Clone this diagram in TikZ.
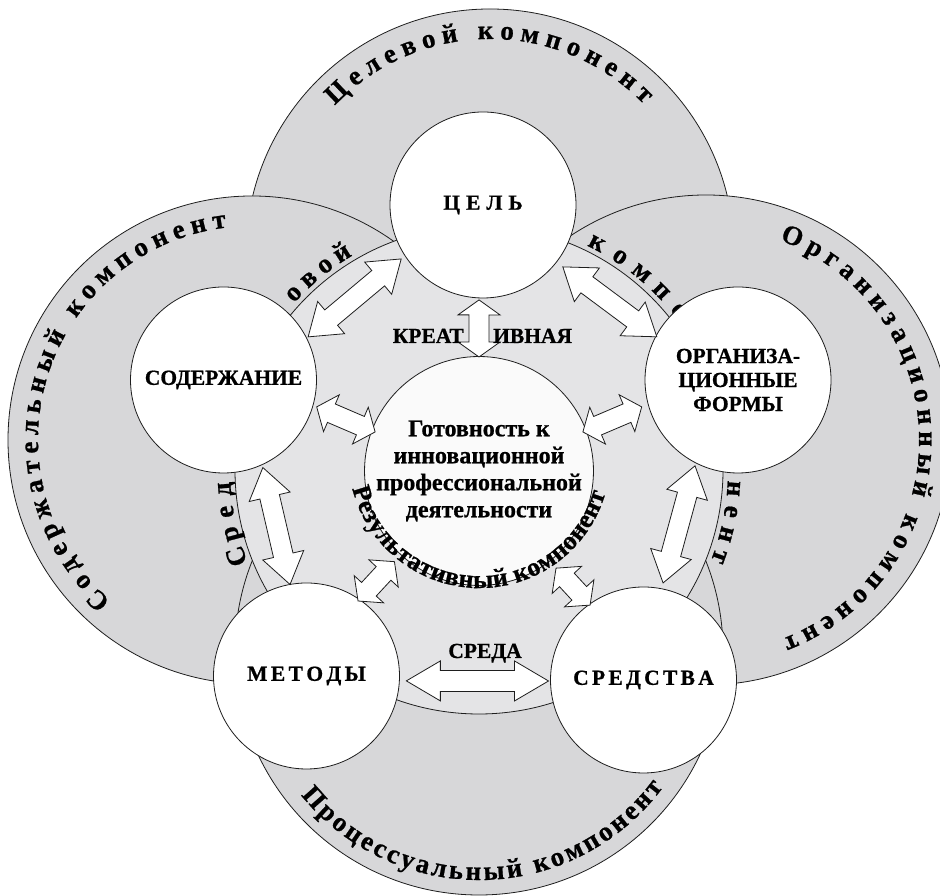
\documentclass[tikz,border=0pt]{standalone}
\usepackage{fontspec}
\setmainfont{Liberation Serif}[BoldFeatures={FakeBold=0.8}]
\usetikzlibrary{calc,decorations.text}
\definecolor{ringgray}{RGB}{215,215,217}
\definecolor{discgray}{RGB}{228,228,230}
\definecolor{coregray}{RGB}{250,250,250}
\definecolor{linec}{RGB}{30,30,30}
\newcommand\arcfont{\bfseries\fontsize{27}{27}\selectfont}
\tikzset{
 ring/.style={fill=ringgray, draw=linec, line width=0.8pt},
 disc/.style={fill=discgray, draw=linec, line width=0.8pt},
 elem/.style={circle, fill=white, draw=linec, line width=0.8pt, minimum size=186pt, inner sep=0pt, align=center, font=\bfseries\fontsize{21.5}{24}\selectfont},
 core/.style={circle, fill=coregray, draw=linec, line width=0.8pt, minimum size=224pt, inner sep=0pt, align=center, font=\bfseries\fontsize{24}{27}\selectfont},
 lbl/.style={font=\bfseries\fontsize{21.5}{24}\selectfont, inner sep=0pt},
 arcletter/.style={anchor=base, inner sep=0pt, font=\arcfont},
 blockarrow/.style={fill=white, draw=linec, line width=0.8pt, line join=miter},
}
% text spread along an arc (start angle > end angle: clockwise, letters outward)
\newcommand\arctext[5]{%
  \path[decorate, decoration={text along path, text align={fit to path},
    text={|\arcfont|#5}}]
    ($(#1)+(#3:#2)$) arc[start angle=#3, end angle=#4, radius=#2];}
\newcommand\cwword[5]{%
  \foreach \ch [count=\i from 0] in {#5}{%
    \pgfmathsetmacro\ang{#3-\i*(#4)}%
    \node[arcletter, rotate=\ang-90] at ($(#1)+(\ang:#2)$) {\ch};}}
\newcommand\blockarr[5]{%
  \draw[blockarrow] (#1)
   -- ($(#1)!#3!(#2)!#4!90:(#2)$)
   -- ($(#1)!#3!(#2)!#5!90:(#2)$)
   -- ($(#2)!#3!(#1)!#5!-90:(#1)$)
   -- ($(#2)!#3!(#1)!#4!-90:(#1)$)
   -- (#2)
   -- ($(#2)!#3!(#1)!#4!90:(#1)$)
   -- ($(#2)!#3!(#1)!#5!90:(#1)$)
   -- ($(#1)!#3!(#2)!#5!-90:(#2)$)
   -- ($(#1)!#3!(#2)!#4!-90:(#2)$)
   -- cycle;}
\begin{document}
\begin{tikzpicture}[x=1pt,y=1pt]
\useasboundingbox (0,0) rectangle (940,896);
\clip (0,0) rectangle (940,896);
\coordinate (ringT) at (490,643);
\coordinate (ringL) at (252,456);
\coordinate (ringR) at (706,456);
\coordinate (ringB) at (479,245);
\coordinate (midC) at (479,426);
\coordinate (res) at (479.5,439);
% outer component rings
\draw[ring] (ringT) circle[radius=244];
\draw[ring] (ringL) circle[radius=244];
\draw[ring] (ringR) circle[radius=245];
\draw[ring] (ringB) circle[radius=244];
\draw[disc] (midC) circle[radius=244];
% ring captions
\arctext{ringT}{214}{136.5}{44}{Целевой компонент}
\arctext{ringL}{214}{228.7}{96.8}{Содержательный компонент}
\arctext{ringR}{213}{69.8}{-68.9}{Организационный компонент}
\arctext{ringB}{229}{219}{323.5}{Процессуальный компонент}
\cwword{midC}{249}{199.6}{5.1}{С,р,е,д}
\cwword{midC}{249}{136.4}{4.7}{о,в,о,й}
\cwword{midC}{249}{62.5}{6.0}{к,о,м,п,о}
\cwword{midC}{249}{-4.2}{5.2}{н,е,н,т}
% element circles
\node[elem] (tsel) at (483,691) {Ц\kern6ptЕ\kern6ptЛ\kern6ptЬ};
\node[elem] (sod) at (223.5,516) {СОДЕРЖАНИЕ};
\node[elem] (org) at (738,516) {ОРГАНИЗА-\\ЦИОННЫЕ\\ФОРМЫ};
\node[elem] (met) at (306.5,220) {М\kern3.4ptЕ\kern3.4ptТ\kern3.4ptО\kern3.4ptД\kern3.4ptЫ};
\node[elem] (sred) at (643.5,216) {С\kern3.3ptР\kern3.3ptЕ\kern3.3ptД\kern3.3ptС\kern3.3ptТ\kern3.3ptВ\kern3.3ptА};
\node[core] (core) at (479,425) {Готовность к\\инновационной\\профессиональной\\деятельности};
% arrow end points
\coordinate (a1s) at ($(sod)+(27:95)$);      \coordinate (a1e) at ($(tsel)+(213.4:98)$);
\coordinate (a2s) at ($(tsel)+(-37.8:101)$); \coordinate (a2e) at ($(org)+(152:92)$);
\coordinate (a3s) at ($(tsel)+(267.6:95)$);  \coordinate (a3e) at ($(core)+(90:114)$);
\coordinate (a4s) at ($(sod)+(-16.1:97)$);   \coordinate (a4e) at ($(core)+(159.4:111)$);
\coordinate (a5s) at ($(core)+(20.6:111)$);  \coordinate (a5e) at ($(org)+(195.6:100)$);
\coordinate (a6s) at ($(sod)+(-65.8:96)$);   \coordinate (a6e) at ($(met)+(100.2:93)$);
\coordinate (a7s) at ($(org)+(243.4:96)$);   \coordinate (a7e) at ($(sred)+(78.6:99)$);
\coordinate (a8s) at ($(met)+(55.5:91)$);    \coordinate (a8e) at ($(core)+(227:124)$);
\coordinate (a9s) at ($(core)+(-51.6:124)$); \coordinate (a9e) at ($(sred)+(125.5:92)$);
\coordinate (a10s) at ($(met)+(-2.8:100)$);  \coordinate (a10e) at ($(sred)+(180.6:95)$);
\blockarr{a1s}{a1e}{30pt}{21pt}{10pt}
\blockarr{a2s}{a2e}{30pt}{21pt}{10pt}
\blockarr{a3s}{a3e}{15pt}{21pt}{10pt}
\blockarr{a4s}{a4e}{16pt}{20pt}{10pt}
\blockarr{a5s}{a5e}{16pt}{20pt}{10pt}
\blockarr{a6s}{a6e}{30pt}{21pt}{10pt}
\blockarr{a7s}{a7e}{30pt}{21pt}{10pt}
\blockarr{a8s}{a8e}{16pt}{20pt}{10pt}
\blockarr{a9s}{a9e}{16pt}{20pt}{10pt}
\blockarr{a10s}{a10e}{34pt}{20pt}{10.5pt}
% labels of the environment
\node[lbl, anchor=base east] (kreat1) at (464,553) {КРЕАТ};
\node[lbl, anchor=base west] (kreat2) at (493,553) {ИВНАЯ};
\node[lbl, anchor=base] (sreda) at (485,238) {СРЕДА};
% result component around the core
\path[decorate, decoration={text along path, text align={fit to path},
  text={|\bfseries\fontsize{26}{26}\selectfont|Результативный компонент}}]
  ($(res)+(193.9:131)$) arc[start angle=193.9, end angle=343.9, radius=131];
\end{tikzpicture}
\end{document}
